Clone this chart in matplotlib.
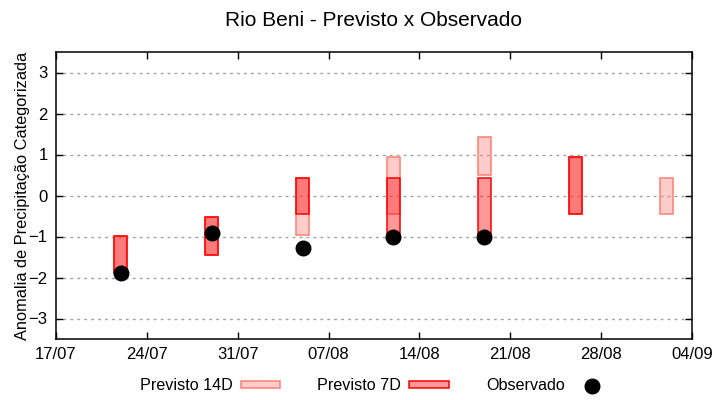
import numpy as np
import matplotlib
matplotlib.use('Agg')
import matplotlib.pyplot as plt
import matplotlib.dates as mdates
from matplotlib.patches import Patch
from matplotlib.lines import Line2D
from datetime import datetime, timedelta

#------------------------------------------------------------------------
#                               data
#------------------------------------------------------------------------
dates = ['2023-07-22', '2023-07-29', '2023-08-05', '2023-08-12',
         '2023-08-19', '2023-08-26', '2023-09-02']

# 14-day forecast range (low, high); None where no bar
prev14_low = [-1.9, -1.45, -0.96, -0.45, 0.50, -0.45, -0.45]
prev14_high = [-1.0, -0.52, 0.43, 0.94, 1.43, 0.94, 0.43]

# 7-day forecast range
prev7_low = [-1.9, -1.45, -0.45, -1.0, -1.0, -0.45, None]
prev7_high = [-1.0, -0.52, 0.43, 0.43, 0.43, 0.94, None]

obs_dates = ['2023-07-22', '2023-07-29', '2023-08-05', '2023-08-12', '2023-08-19']
observado = [-1.9, -0.91, -1.29, -1.0, -1.0]

xtick_start = '2023-07-17'
xtick_end = '2023-09-04'

#------------------------------------------------------------------------
#                               plot
#------------------------------------------------------------------------
plt.rcParams['font.family'] = ['Liberation Sans', 'DejaVu Sans']

fig = plt.figure(figsize=(7.2, 4), dpi=100)
ax = fig.add_axes([56/720, 1-339/400, (692-56)/720, (339-52)/400])

x = mdates.date2num([datetime.strptime(d, '%Y-%m-%d') for d in dates])
xo = mdates.date2num([datetime.strptime(d, '%Y-%m-%d') for d in obs_dates])

# 14D bars
for xi, lo, hi in zip(x, prev14_low, prev14_high):
    if lo is None:
        continue
    ax.bar(xi, hi-lo, bottom=lo, width=1.0, facecolor=(1, 0.5, 0.5, 0.4),
           edgecolor='#fa8072', linewidth=1.1, zorder=3)

# 7D bars
for xi, lo, hi in zip(x, prev7_low, prev7_high):
    if lo is None:
        continue
    ax.bar(xi, hi-lo, bottom=lo, width=1.0, facecolor=(1, 0, 0, 0.4),
           edgecolor='red', linewidth=1.1, zorder=4)

# observed
ax.scatter(xo, observado, s=110, color='black', zorder=5)

ax.set_ylim(-3.5, 3.5)
ax.set_yticks([-3, -2, -1, 0, 1, 2, 3])
t0 = datetime.strptime(xtick_start, '%Y-%m-%d')
t1 = datetime.strptime(xtick_end, '%Y-%m-%d')
ax.set_xlim(mdates.date2num(t0), mdates.date2num(t1))
ticks = [t0 + timedelta(days=7*i) for i in range(8)]
ax.set_xticks(mdates.date2num(ticks))
ax.xaxis.set_major_formatter(mdates.DateFormatter('%d/%m'))

ax.grid(axis='y', color='#a0a0a0', linestyle=(0, (2, 3)), linewidth=1.0, zorder=0)
ax.tick_params(direction='in', top=True, right=True, length=5, width=1,
               labelsize=12, pad=6)
for s in ax.spines.values():
    s.set_linewidth(1.1)

ax.set_ylabel('Anomalia de Precipitação Categorizada', fontsize=11.8, labelpad=-1)
fig.text(373/720, 1-20/400, 'Rio Beni - Previsto x Observado', fontsize=15,
         ha='center', va='center')

handles = [Patch(facecolor=(1, 0.5, 0.5, 0.4), edgecolor='#fa8072', linewidth=1.1),
           Patch(facecolor=(1, 0, 0, 0.4), edgecolor='red', linewidth=1.1),
           Line2D([], [], marker='o', linestyle='none', color='black', markersize=10.5)]
labels = ['Previsto 14D', 'Previsto 7D', 'Observado']
fig.legend(handles, labels, loc='center', bbox_to_anchor=(376/720, 1-386/400),
           ncol=3, frameon=False, markerfirst=False, fontsize=11.6,
           handlelength=2.45, handleheight=0.3, columnspacing=2.3, handletextpad=0.5)

fig.savefig('out.png', dpi=100)
